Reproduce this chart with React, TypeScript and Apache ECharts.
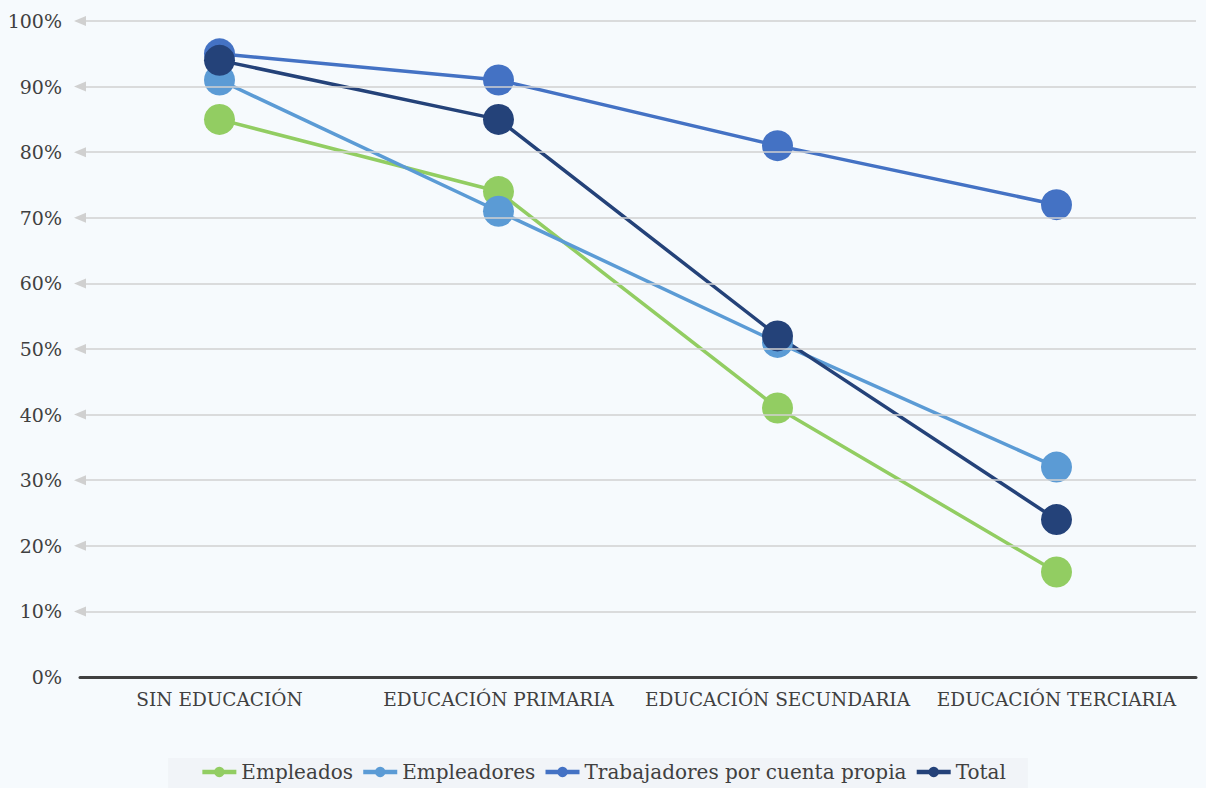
import React, { useEffect, useRef } from "react";
import * as echarts from "echarts";

const categories = ["SIN EDUCACIÓN", "EDUCACIÓN PRIMARIA", "EDUCACIÓN SECUNDARIA", "EDUCACIÓN TERCIARIA"];
const empleados = [85, 74, 41, 16];
const empleadores = [91, 71, 51, 32];
const cuentaPropia = [95, 91, 81, 72];
const total = [94, 85, 52, 24];
const gridValues = [10, 20, 30, 40, 50, 60, 70, 80, 90, 100];

const FONT = "'DejaVu Serif', serif";
const TEXT = "#404040";

export default function App() {
  const ref = useRef<HTMLDivElement>(null);
  useEffect(() => {
    const chart = echarts.init(ref.current!, null, { renderer: "svg" });
    const mk = (name: string, data: number[], color: string, extra: any = {}) => ({
      name,
      type: "line",
      data,
      symbol: "circle",
      symbolSize: 31,
      lineStyle: { width: 3.5, color },
      itemStyle: { color },
      ...extra,
    });
    chart.setOption({
      animation: false,
      backgroundColor: "#f6fafd",
      textStyle: { fontFamily: FONT },
      grid: { left: 80, right: 10, top: 21, bottom: 111, containLabel: false },
      legend: {
        bottom: 0,
        left: "center",
        itemWidth: 34,
        itemHeight: 13,
        itemGap: 8,
        padding: [4, 22, 6, 32],
        backgroundColor: "#f1f4f8",
        lineStyle: { width: 4.5 },
        textStyle: { fontFamily: FONT, fontSize: 20, color: TEXT },
        data: ["Empleados", "Empleadores", "Trabajadores por cuenta propia", "Total"],
      },
      xAxis: {
        type: "category",
        data: categories,
        boundaryGap: true,
        axisLine: { lineStyle: { color: "#404040", width: 3 } },
        axisTick: { show: false },
        axisLabel: { color: TEXT, fontSize: 18.5, fontFamily: FONT, margin: 13, interval: 0 },
      },
      yAxis: {
        type: "value",
        min: 0,
        max: 100,
        interval: 10,
        axisLine: { show: false },
        axisTick: { show: false },
        splitLine: { show: false },
        axisLabel: { color: TEXT, fontSize: 19, fontFamily: FONT, margin: 18, formatter: "{value}%" },
      },
      series: [
        mk("Empleados", empleados, "#92cd62", {
          markLine: {
            silent: true,
            symbol: ["triangle", "none"],
            symbolSize: [10, 12],
            label: { show: false },
            lineStyle: { color: "#d0d0d0", width: 1.5, type: "solid" },
            data: gridValues.map((v) => ({ yAxis: v })),
          },
        }),
        mk("Empleadores", empleadores, "#5b9bd5"),
        mk("Trabajadores por cuenta propia", cuentaPropia, "#4472c4"),
        mk("Total", total, "#244279"),
      ],
    });
    return () => chart.dispose();
  }, []);
  return <div ref={ref} style={{ width: 1206, height: 788, position: "absolute", left: 0, top: 0 }} />;
}
